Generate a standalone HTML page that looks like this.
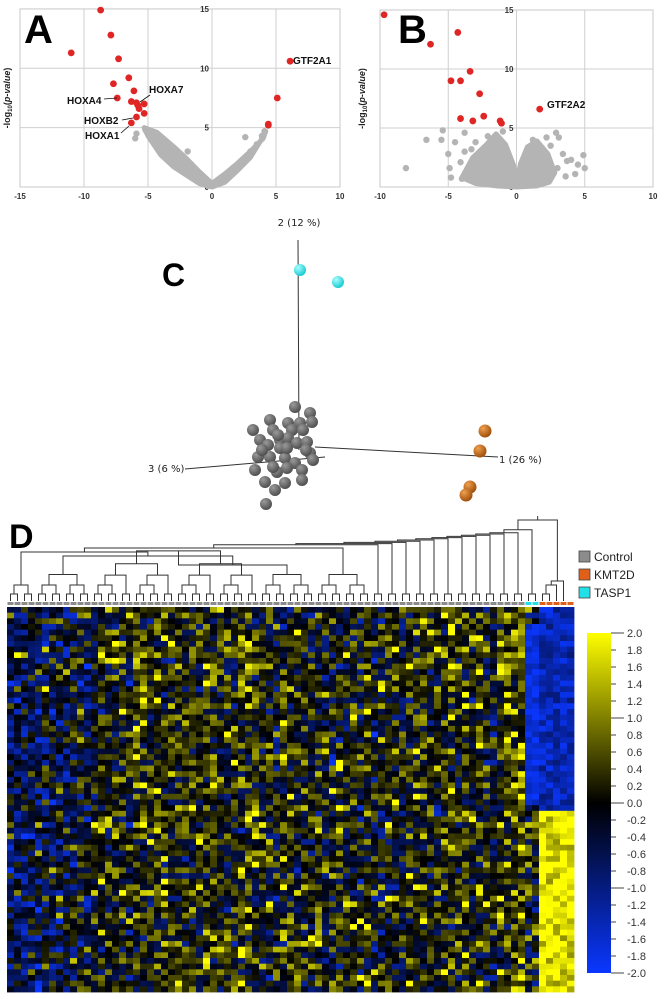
<!DOCTYPE html>
<html><head><meta charset="utf-8"><style>
html,body{margin:0;padding:0;background:#fff;}
svg{display:block;font-family:"Liberation Sans",sans-serif;}
</style></head><body>
<svg id="fig" width="666" height="999" viewBox="0 0 666 999" xmlns="http://www.w3.org/2000/svg">
<g id="pa"></g>
<g id="pb"></g>
<g id="pc"></g>
<g id="pd"></g>
</svg>
<script>
// ---------- Panel A data ----------
const aRedX=[-8.7,-11,-7.9,-7.3,-6.5,-7.7,-6.1,-7.4,-6.3,-5.9,-5.8,-5.3,-5.7,-5.3,-5.9,-6.3,4.4,4.4,5.1,6.1];
const aRedY=[14.9,11.3,12.8,10.8,9.2,8.7,8.1,7.5,7.2,7.1,6.9,7.0,6.6,6.2,5.9,5.4,5.3,5.2,7.5,10.6];
const aGrayX=[-5.2,-4.8,-4.4,-3.6,-3.0,-2.5,-2.0,-1.4,-0.8,-0.3,0.3,0.8,1.4,2.0,2.5,3.0,3.5,3.9,4.1,-5.9,-4.2,-1.9,2.6,-6.0];
const aGrayY=[4.8,4.6,4.3,3.4,2.8,2.2,1.6,1.0,0.5,0.1,0.2,0.7,1.3,1.8,2.4,3.0,3.6,4.3,4.7,4.5,3.9,3.0,4.2,4.1];
const aEnvX=[-5.3,-4.3,-3,-2,-1,0,1,2,3,4,4.2,3.8,3,2,1,0,-1,-2,-3,-4,-5];
const aEnvY=[5,4.6,3.4,2.4,1.3,0.3,1.1,2.0,3.0,4.1,4.7,3.9,2.5,1.4,0.4,0,0.3,1.0,1.7,2.7,4.3];
const aTicksX=[-15,-10,-5,0,5,10];
const aTicksY=[0,5,10,15];
// ---------- Panel B data ----------
const bRedX=[-9.7,-6.3,-4.3,-3.4,-4.8,-4.1,-2.7,-4.1,-3.2,-2.4,-1.2,-1.1,1.7];
const bRedY=[14.6,12.1,13.1,9.8,9.0,9.0,7.9,5.8,5.6,6.0,5.6,5.4,6.6];
const bGrayX=[-8.1,-6.6,-5.4,-5.0,-4.9,-4.0,-3.8,-3.3,-2.8,-4.1,-4.8,-3.5,-2.1,2.2,2.9,3.1,3.4,3.7,4.3,4.5,4.9,5.0,3.6,4.0,1.2,-1.0,-5.5,-4.5,-3.0,-2.5,-3.8,2.5,3.0,1.8];
const bGrayY=[1.6,4.0,4.8,2.8,1.6,0.7,4.6,3.2,2.3,2.1,0.8,1.7,4.3,4.2,4.6,4.2,2.8,2.2,1.1,1.9,2.7,1.6,0.9,2.3,4.0,4.7,4.0,3.8,3.8,2.8,3.0,3.5,1.6,3.0];
const bEnvX=[-4.0,-3.2,-2.2,-1.5,-0.8,-0.2,0,0.3,0.8,1.5,2.3,2.8,2.4,1.5,0,-1.5,-3.0];
const bEnvY=[0.8,2.5,3.6,4.5,3.6,1.8,0.4,2.0,3.4,3.9,2.8,1.2,0.4,0.1,0,0.1,0.3];
const bTicksX=[-10,-5,0,5,10];
const bTicksY=[0,5,10,15];
// ---------- Panel C data (PC scores, display units) ----------
const grayPC1=[-3,12,-28,-10,2,14,-45,-25,-6,5,-38,-30,-18,-10,-1,9,-40,-28,-13,-3,12,15,-43,-21,-11,4,-33,-23,-13,4,-32,-18,-11,-25,-36,-20,8];
const grayPC2=[40,34,27,24,24,25,17,17,17,17,7,2,7,9,4,5,-10,-10,-11,-16,-6,-13,-23,-25,-21,-23,-35,-43,-36,-33,-57,-1,-1,-20,-3,12,-3];
const cyanPC1=[2,40];
const cyanPC2=[177,165];
const orangePC1=[187,182,172,168];
const orangePC2=[16,-4,-40,-48];
// ---------- Panel D data ----------
const groups=["Control","KMT2D","TASP1"];
const nControl=74, nTasp=2, nKmt=5;
const colBias=[-0.7,-0.7,-0.6,-0.5,-0.6,-0.5,-0.5,-0.4,-0.5,-0.5,-0.3,-0.4,-0.3,0.1,0.0,0.0,0.2,-0.1,0.2,0.3,0.1,0.3,0.2,0.0,0.3,0.3,0.2,0.1,0.3,0.3,0.2,0.0,0.1,0.3,0.3,0.2,0.0,0.1,-0.1,0.2,0.2,0.1,0.0,-0.1,0.1,0.0,-0.2,0.1,-0.2,0.0,-0.1,0.2,-0.3,-0.1,0.1,0.0,-0.2,0.1,0.2,0.3,0.0,0.1,0.3,0.3,0.1,0.2,0.0,0.3,0.1,-0.1,0.3,0.4,0.5,0.6,-0.3,-0.3,-0.2,-0.3,-0.2,-0.3,-0.2];
const ticksCB=["2.0","1.8","1.6","1.4","1.2","1.0","0.8","0.6","0.4","0.2","0.0","-0.2","-0.4","-0.6","-0.8","-1.0","-1.2","-1.4","-1.6","-1.8","-2.0"];
const nRows=68, splitRow=36;
// deterministic texture table derived from a fixed seed (visual noise of control samples)
let seed=12345;
function nxt(){seed=(seed*1103515245+12345)%2147483648;return seed/2147483648;}
const heat=[];
for(let r=0;r<nRows;r++){const row=[];for(let c=0;c<nControl+nTasp+nKmt;c++){
  let v=(nxt()+nxt()+nxt()-1.5)*1.3+colBias[c]*0.9+(nxt()<0.07?1.3:0);
  if(c>=nControl && c<nControl+nTasp){ v = (r>2&&r<35)? -2+nxt()*0.6 : (nxt()*3-1.4); }
  if(c>=nControl+nTasp){ v = r<splitRow? -1.9+nxt()*1.0 : 1.1+nxt()*1.4; }
  row.push(Math.max(-2,Math.min(2,v)));}
  heat.push(row);}
</script>
<script>
const NS="http://www.w3.org/2000/svg";
function mk(p,t,a,txt){const e=document.createElementNS(NS,t);for(const k in a)e.setAttribute(k,a[k]);if(txt!==undefined)e.textContent=txt;p.appendChild(e);return e;}

function volcano(g,opt){
  const sx=v=>opt.x0+(v-opt.xmin)*opt.kx, sy=v=>opt.y0-v*opt.ky;
  const fr=mk(g,'rect',{x:sx(opt.xmin),y:sy(15),width:(opt.xmax-opt.xmin)*opt.kx,height:15*opt.ky,fill:'#fff',stroke:'#c8c8c8','stroke-width':1});
  
  opt.ticksX.forEach(t=>{ if(t>opt.xmin&&t<opt.xmax){const l=mk(g,'line',{x1:sx(t),x2:sx(t),y1:sy(0),y2:sy(15),stroke:'#cfcfcf','stroke-width':1});
    }
    const tl=mk(g,'text',{x:sx(t),y:sy(0)+12,'font-size':8,'font-weight':'bold','text-anchor':'middle',fill:'#333'},String(t));
    });
  opt.ticksY.forEach(t=>{ if(t>0&&t<15){const l=mk(g,'line',{x1:sx(opt.xmin),x2:sx(opt.xmax),y1:sy(t),y2:sy(t),stroke:'#cfcfcf','stroke-width':1});
    }
    const tl=mk(g,'text',{x:sx(0)-3,y:sy(t)+3,'font-size':8,'font-weight':'bold','text-anchor':'end',fill:'#333'},String(t));
    });
  const pts=opt.envX.map((x,i)=>sx(x)+','+sy(opt.envY[i])).join(' ');
  const cl=mk(g,'polygon',{points:pts,fill:'#b4b4b4',stroke:'#b4b4b4','stroke-width':5,'stroke-linejoin':'round'});
  
  opt.gx.forEach((x,i)=>{const c=mk(g,'circle',{cx:sx(x),cy:sy(opt.gy[i]),r:3.2,fill:'#b4b4b4'});
    });
  opt.rx.forEach((x,i)=>{const c=mk(g,'circle',{cx:sx(x),cy:sy(opt.ry[i]),r:3.4,fill:'#e02525'});
    });
  const yl=mk(g,'text',{x:0,y:0,'font-size':9,'font-weight':'bold','text-anchor':'middle',fill:'#222',transform:`translate(${opt.ylx},${(sy(0)+sy(15))/2}) rotate(-90)`});
  
  yl.innerHTML='-log<tspan font-size="6" dy="2">10</tspan><tspan dy="-2">(</tspan><tspan font-style="italic">p-value</tspan>)';
  const L=mk(g,'text',{x:opt.lx,y:43,'font-size':40,'font-weight':'bold',fill:'#000'},opt.letter);
  
  return {sx,sy};
}
const A=volcano(document.getElementById('pa'),{x0:20,xmin:-15,xmax:10,kx:12.8,y0:187,ky:11.87,ticksX:aTicksX,ticksY:aTicksY,
  envX:aEnvX,envY:aEnvY,gx:aGrayX,gy:aGrayY,rx:aRedX,ry:aRedY,ylx:10,lx:24,letter:'A'});
const B=volcano(document.getElementById('pb'),{x0:380,xmin:-10,xmax:10,kx:13.65,y0:187,ky:11.8,ticksX:bTicksX,ticksY:bTicksY,
  envX:bEnvX,envY:bEnvY,gx:bGrayX,gy:bGrayY,rx:bRedX,ry:bRedY,ylx:365,lx:398,letter:'B'});
const pa=document.getElementById('pa'), pb=document.getElementById('pb');
function ann(g,txt,x,y,anchor,lx1,ly1,lx2,ly2,name){
  const t=mk(g,'text',{x:x,y:y,'font-size':10,'font-weight':'bold','text-anchor':anchor,fill:'#111'},txt);
  
  if(lx1!==null){const l=mk(g,'line',{x1:lx1,y1:ly1,x2:lx2,y2:ly2,stroke:'#111','stroke-width':0.8});
    }
}
ann(pa,'GTF2A1',293,64,'start',null,0,0,0,'gtf2a1-label');
ann(pa,'HOXA4',67,104,'start',104,99,117,98,'hoxa4-label');
ann(pa,'HOXA7',149,93,'start',150,95,140,102,'hoxa7-label');
ann(pa,'HOXB2',84,124,'start',122,120,133,118,'hoxb2-label');
ann(pa,'HOXA1',85,139,'start',121,133,129,126,'hoxa1-label');
ann(pb,'GTF2A2',547,108,'start',null,0,0,0,'gtf2a2-label');

// ---------- Panel C ----------
(function(){
  const g=document.getElementById('pc');
  const ox=298, oy=447, k=1;
  const px=v=>ox+v*k, py=v=>oy-v*k;
  const defs=mk(g,'defs',{});
  [['gg','#9a9a9a','#4a4a4a'],['gc','#a8ffff','#10c8d0'],['go','#f0a050','#9a4a05']].forEach(d=>{
    const rg=mk(defs,'radialGradient',{id:d[0],cx:'0.35',cy:'0.3',r:'0.75'});
    mk(rg,'stop',{offset:'0',"stop-color":d[1]});mk(rg,'stop',{offset:'1',"stop-color":d[2]});});
  const axes=[[298,240,299,450,'pc2-axis'],[315,447,498,457,'pc1-axis'],[325,457,185,469,'pc3-axis']];
  axes.forEach(a=>{const l=mk(g,'line',{x1:a[0],y1:a[1],x2:a[2],y2:a[3],stroke:'#333','stroke-width':1});
    });
  const labs=[['2 (12 %)',299,226,'middle','pc2-axis-title'],['1 (26 %)',499,463,'start','pc1-axis-title'],['3 (6 %)',148,472,'start','pc3-axis-title']];
  labs.forEach(a=>{const t=mk(g,'text',{x:a[1],y:a[2],'font-size':10,'font-family':'"DejaVu Sans",sans-serif','text-anchor':a[3],fill:'#222'},a[0]);
    });
  grayPC1.forEach((v,i)=>{const c=mk(g,'circle',{cx:px(v),cy:py(grayPC2[i]),r:6,fill:'url(#gg)'});
    });
  cyanPC1.forEach((v,i)=>{const c=mk(g,'circle',{cx:px(v),cy:py(cyanPC2[i]),r:6,fill:'url(#gc)'});
    });
  orangePC1.forEach((v,i)=>{const c=mk(g,'circle',{cx:px(v),cy:py(orangePC2[i]),r:6.5,fill:'url(#go)'});
    });
  const L=mk(g,'text',{x:162,y:286,'font-size':32,'font-weight':'bold',fill:'#000'},'C');
  
})();

// ---------- Panel D ----------
(function(){
  const g=document.getElementById('pd');
  const nC=heat[0].length, x0=7, x1=574, y0=607, y1=992;
  const cw=(x1-x0)/nC, rh=(y1-y0)/nRows;
  function col(v){
    if(v>=0){const t=v/2;return `rgb(${Math.round(255*t)},${Math.round(255*t)},0)`;}
    const t=-v/2;return `rgb(${Math.round(10*t)},${Math.round(55*t)},${Math.round(255*t)})`;}
  heat.forEach((row,r)=>row.forEach((v,c)=>{
    const e=mk(g,'rect',{x:x0+c*cw,y:y0+r*rh,width:cw+0.4,height:rh+0.4,fill:col(v)});
    }));
  for(let c=0;c<nC;c++){
    const f=c<nControl?'#8c8c8c':(c<nControl+nTasp?'#22e0e8':'#e0601a');
    const e=mk(g,'rect',{x:x0+c*cw+0.5,y:602,width:cw-1,height:3,fill:f});
    }
  const cx=c=>x0+(c+0.5)*cw;
  const dg=mk(g,'g',{stroke:'#333','stroke-width':1,fill:'none'});
  
  function link(a,ha,b,hb,h){mk(dg,'path',{d:`M${a},${ha}V${h}H${b}V${hb}`});return (a+b)/2;}
  const leafY=601;
  function build(lo,hi){
    if(hi-lo===1) return [cx(lo),leafY];
    if(hi-lo===2){const h=594;return [link(cx(lo),leafY,cx(lo+1),leafY,h),h];}
    const mid=lo+2*Math.ceil((hi-lo)/4);
    const L=build(lo,mid),R=build(mid,hi);
    const h=Math.min(L[1],R[1])-6-Math.log2(hi-lo)*1.5;
    return [link(L[0],L[1],R[0],R[1],h),h];}
  const A1=build(0,4), A2=build(4,12), A3=build(12,36), A4=build(36,44), A5=build(44,52);
  let m=[link(A3[0],A3[1],A4[0],A4[1],565),565];
  m=[link(A2[0],A2[1],m[0],m[1],556),556];
  let m2=[link(A1[0],A1[1],m[0],m[1],552),552];
  m2=[link(m2[0],m2[1],A5[0],A5[1],548),548];
  let cur=m2; let h=546;
  for(let c=52;c<nControl;c+=2){const p=build(c,Math.min(c+2,nControl));h-=1.2;cur=[link(cur[0],cur[1],p[0],p[1],h),h];}
  const T=build(nControl,nControl+2);
  const K1=build(nControl+2,nControl+4), K2=[link(K1[0],K1[1],cx(nControl+4),leafY,585),585];
  const K3=[link(K2[0],K2[1],cx(nControl+5),leafY,581),581];
  h-=3;cur=[link(cur[0],cur[1],T[0],T[1],h),h];
  const root=link(cur[0],cur[1],K3[0],K3[1],520);
  mk(dg,'path',{d:`M${root},520V516`});
  [['Control','#8c8c8c',560],['KMT2D','#e0601a',578],['TASP1','#22e0e8',596]].forEach((d,i)=>{
    const r=mk(g,'rect',{x:579,y:d[2]-9,width:11,height:11,fill:d[1],stroke:'#444','stroke-width':0.8});
    
    const t=mk(g,'text',{x:594,y:d[2]+1,'font-size':12,fill:'#222'},d[0]);
    });
  const defs=mk(g,'defs',{});
  const lg=mk(defs,'linearGradient',{id:'cb',x1:0,y1:0,x2:0,y2:1});
  mk(lg,'stop',{offset:0,'stop-color':'#ffff00'});mk(lg,'stop',{offset:0.5,'stop-color':'#000'});mk(lg,'stop',{offset:1,'stop-color':'#0a37ff'});
  const cb=mk(g,'rect',{x:587,y:633,width:24,height:340,fill:'url(#cb)'});
  
  ticksCB.forEach((t,i)=>{const y=633+i*340/(ticksCB.length-1);const major=i%5===0;
    const l=mk(g,'line',{x1:611,x2:major?624:616,y1:y,y2:y,stroke:'#444','stroke-width':1});
    
    const tx=mk(g,'text',{x:627,y:y+4,'font-size':11,fill:'#333'},t);
    });
  const L=mk(g,'text',{x:9,y:548,'font-size':34,'font-weight':'bold',fill:'#000'},'D');
  
})();
</script>
</body></html>
